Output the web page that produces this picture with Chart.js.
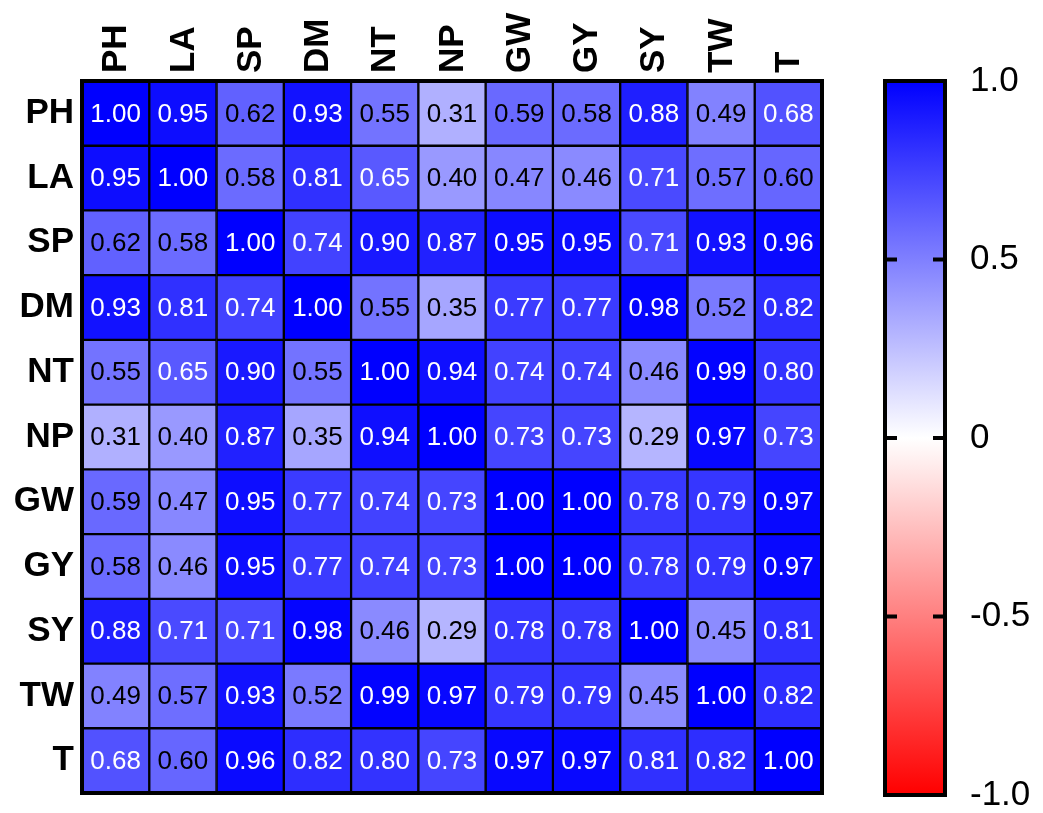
<!DOCTYPE html>
<html>
<head>
<meta charset="utf-8">
<script src="https://cdn.jsdelivr.net/npm/chart.js"></script>
<style>
  body { margin: 0; background: #fff; }
  #heat { position: absolute; left: 0; top: 0; }
  #bar { position: absolute; left: 860px; top: 0; }
</style>
</head>
<body>
<canvas id="heat" width="860" height="813"></canvas>
<canvas id="bar" width="183" height="813"></canvas>
<script>
const traits = ['PH', 'LA', 'SP', 'DM', 'NT', 'NP', 'GW', 'GY', 'SY', 'TW', 'T'];

// correlation rows, in the order of traits
const rowPH = [1.00, 0.95, 0.62, 0.93, 0.55, 0.31, 0.59, 0.58, 0.88, 0.49, 0.68];
const rowLA = [0.95, 1.00, 0.58, 0.81, 0.65, 0.40, 0.47, 0.46, 0.71, 0.57, 0.60];
const rowSP = [0.62, 0.58, 1.00, 0.74, 0.90, 0.87, 0.95, 0.95, 0.71, 0.93, 0.96];
const rowDM = [0.93, 0.81, 0.74, 1.00, 0.55, 0.35, 0.77, 0.77, 0.98, 0.52, 0.82];
const rowNT = [0.55, 0.65, 0.90, 0.55, 1.00, 0.94, 0.74, 0.74, 0.46, 0.99, 0.80];
const rowNP = [0.31, 0.40, 0.87, 0.35, 0.94, 1.00, 0.73, 0.73, 0.29, 0.97, 0.73];
const rowGW = [0.59, 0.47, 0.95, 0.77, 0.74, 0.73, 1.00, 1.00, 0.78, 0.79, 0.97];
const rowGY = [0.58, 0.46, 0.95, 0.77, 0.74, 0.73, 1.00, 1.00, 0.78, 0.79, 0.97];
const rowSY = [0.88, 0.71, 0.71, 0.98, 0.46, 0.29, 0.78, 0.78, 1.00, 0.45, 0.81];
const rowTW = [0.49, 0.57, 0.93, 0.52, 0.99, 0.97, 0.79, 0.79, 0.45, 1.00, 0.82];
const rowT  = [0.68, 0.60, 0.96, 0.82, 0.80, 0.73, 0.97, 0.97, 0.81, 0.82, 1.00];
const rows = [rowPH, rowLA, rowSP, rowDM, rowNT, rowNP, rowGW, rowGY, rowSY, rowTW, rowT];

const scaleTicks = [-1, -0.5, 0, 0.5, 1];

const FONT = '"Liberation Sans", Arial, sans-serif';
Chart.defaults.font.family = FONT;
Chart.defaults.color = '#000';
Chart.defaults.animation = false;

// red - white - blue
function cellColor(v) {
  if (v >= 0) {
    const c = Math.round(255 * (1 - v));
    return `rgb(${c},${c},255)`;
  }
  const c = Math.round(255 * (1 + v));
  return `rgb(255,${c},${c})`;
}

const cellText = {
  id: 'cellText',
  afterDatasetsDraw(chart) {
    const ctx = chart.ctx;
    ctx.save();
    ctx.font = '26px ' + FONT;
    ctx.textAlign = 'center';
    ctx.textBaseline = 'middle';
    chart.data.datasets.forEach((ds, r) => {
      chart.getDatasetMeta(r).data.forEach((bar, c) => {
        const v = rows[r][c];
        ctx.fillStyle = v >= 0.63 ? '#fff' : '#000';
        ctx.fillText(v.toFixed(2), bar.x, (bar.y + bar.base) / 2 + 1);
      });
    });
    ctx.restore();
  }
};

// frame + vertical column names on top
const frame = {
  id: 'frame',
  afterDraw(chart) {
    const a = chart.chartArea;
    const ctx = chart.ctx;
    ctx.save();
    ctx.strokeStyle = '#000';
    ctx.lineWidth = 4;
    ctx.strokeRect(a.left, a.top, a.right - a.left, a.bottom - a.top);
    const x = chart.scales.x;
    ctx.font = 'bold 35px ' + FONT;
    ctx.fillStyle = '#000';
    ctx.textAlign = 'left';
    ctx.textBaseline = 'middle';
    traits.forEach((t, i) => {
      ctx.save();
      ctx.translate(x.getPixelForTick(i) + 1, a.top - 8);
      ctx.rotate(-Math.PI / 2);
      ctx.fillText(t, 0, 0);
      ctx.restore();
    });
    ctx.restore();
  }
};

new Chart(document.getElementById('heat'), {
  type: 'bar',
  data: {
    labels: traits,
    datasets: rows.map((row, r) => ({
      data: row.map(() => [r, r + 1]),
      backgroundColor: row.map(cellColor),
      borderColor: '#000',
      borderWidth: 1.5,
      borderSkipped: false,
      barPercentage: 1,
      categoryPercentage: 1,
      grouped: false
    }))
  },
  options: {
    responsive: false,
    layout: { padding: { left: 0, top: 0, right: 38, bottom: 20 } },
    plugins: { legend: { display: false }, tooltip: { enabled: false } },
    scales: {
      x: {
        position: 'top',
        grid: { display: false, drawTicks: false },
        border: { display: false },
        ticks: { display: false },
        afterFit(s) { s.height = 81; s.paddingLeft = 0; s.paddingRight = 0; }
      },
      y: {
        type: 'linear',
        min: 0,
        max: traits.length,
        reverse: true,
        grid: { display: false, drawTicks: false },
        border: { display: false },
        afterBuildTicks(s) { s.ticks = traits.map((t, i) => ({ value: i + 0.5 })); },
        ticks: { padding: 8, font: { size: 35, weight: 'bold' },
                 callback: v => traits[Math.floor(v)] },
        afterFit(s) { s.width = 82; s.paddingTop = 0; s.paddingBottom = 0; }
      }
    }
  },
  plugins: [cellText, frame]
});

// colour scale
const inwardTicks = {
  id: 'inwardTicks',
  afterDraw(chart) {
    const a = chart.chartArea;
    const y = chart.scales.y;
    const ctx = chart.ctx;
    ctx.save();
    ctx.strokeStyle = '#000';
    ctx.lineWidth = 4;
    ctx.strokeRect(a.left, a.top, a.right - a.left, a.bottom - a.top);
    scaleTicks.forEach(t => {
      const py = y.getPixelForValue(t);
      ctx.beginPath();
      ctx.moveTo(a.left, py); ctx.lineTo(a.left + 12, py);
      ctx.moveTo(a.right, py); ctx.lineTo(a.right - 12, py);
      ctx.stroke();
    });
    ctx.restore();
  }
};

new Chart(document.getElementById('bar'), {
  type: 'bar',
  data: {
    labels: [''],
    datasets: [{
      data: [[scaleTicks[0], scaleTicks[scaleTicks.length - 1]]],
      backgroundColor(c) {
        const a = c.chart.chartArea;
        if (!a) return '#fff';
        const g = c.chart.ctx.createLinearGradient(0, a.bottom, 0, a.top);
        g.addColorStop(0, cellColor(-1));
        g.addColorStop(0.5, cellColor(0));
        g.addColorStop(1, cellColor(1));
        return g;
      },
      borderWidth: 0,
      barPercentage: 1,
      categoryPercentage: 1
    }]
  },
  options: {
    responsive: false,
    layout: { padding: { left: 25, top: 81, right: 0, bottom: 18 } },
    plugins: { legend: { display: false }, tooltip: { enabled: false } },
    scales: {
      x: { display: false },
      y: {
        position: 'right',
        min: -1,
        max: 1,
        grid: { display: false, drawTicks: false },
        border: { display: false },
        afterBuildTicks(s) { s.ticks = scaleTicks.map(v => ({ value: v })); },
        ticks: { padding: 25, font: { size: 35 },
                 callback: v => v === 0 ? '0' : v.toFixed(1) },
        afterFit(s) { s.width = 98; s.paddingTop = 0; s.paddingBottom = 0; }
      }
    }
  },
  plugins: [inwardTicks]
});
</script>
</body>
</html>
